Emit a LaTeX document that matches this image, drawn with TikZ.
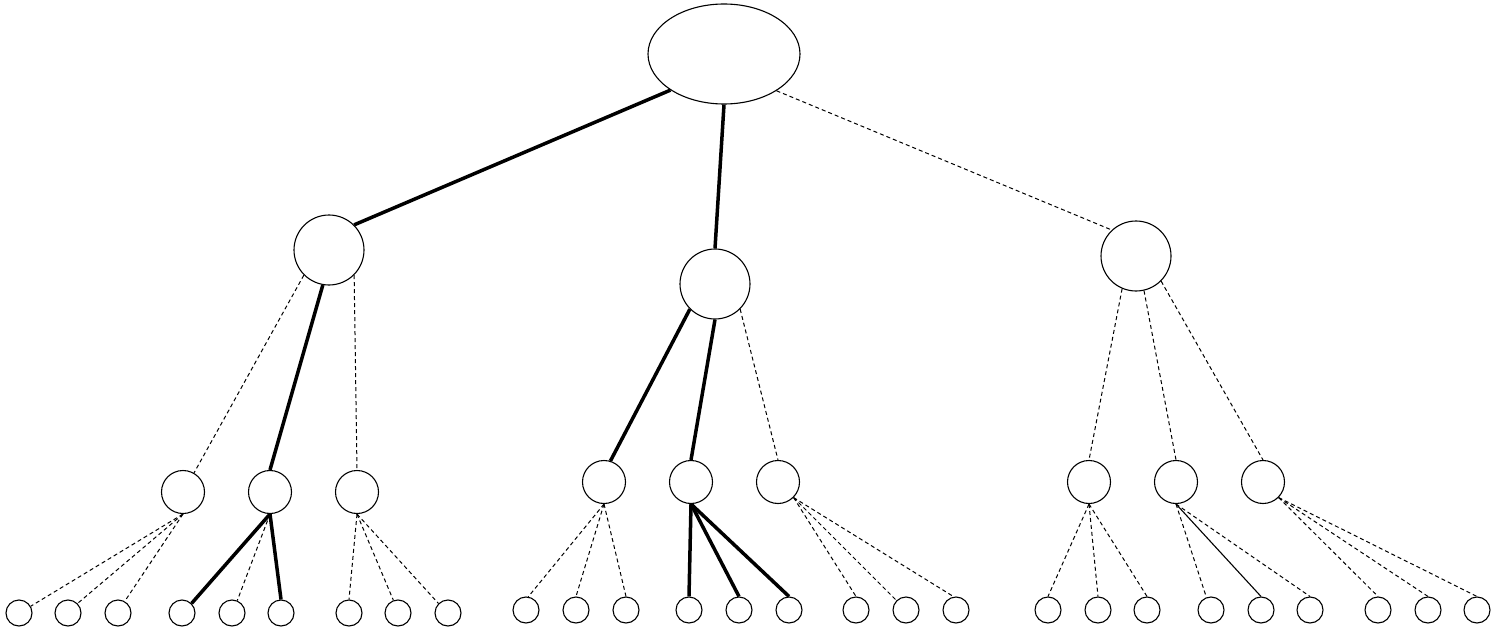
\documentclass[tikz,border=0pt]{standalone}
\usetikzlibrary{shapes.geometric}
\begin{document}
\begin{tikzpicture}[x=1pt,y=-1pt,
    rootnode/.style={draw,ellipse,line width=1.1pt,minimum width=152pt,minimum height=100pt,inner sep=0pt},
    midnode/.style={draw,circle,line width=1.1pt,minimum size=70pt,inner sep=0pt},
    lownode/.style={draw,circle,line width=1.1pt,minimum size=43pt,inner sep=0pt},
    leafnode/.style={draw,circle,line width=1.1pt,minimum size=26pt,inner sep=0pt},
    boldedge/.style={line width=3.5pt},
    dashedge/.style={line width=1pt,dash pattern=on 4pt off 3pt},
    thinedge/.style={line width=1.1pt}]
    \useasboundingbox (0,0) rectangle (1498,631);

    \node[rootnode] (root) at (724,54) {};

    \node[midnode] (ma) at (329,250) {};
    \node[midnode] (mb) at (715,284) {};
    \node[midnode] (mc) at (1136,256) {};

    \node[lownode] (la) at (183,492) {};
    \node[lownode] (lb) at (270,492) {};
    \node[lownode] (lc) at (357,492) {};
    \node[lownode] (ld) at (604,482) {};
    \node[lownode] (le) at (691,482) {};
    \node[lownode] (lf) at (778,482) {};
    \node[lownode] (lg) at (1089,482) {};
    \node[lownode] (lh) at (1176,482) {};
    \node[lownode] (li) at (1263,482) {};

    % leaves
    \foreach \n/\x/\y in {1/19/613,2/68/613,3/118/613,4/182/613,5/232/613,6/281/613,
                          7/349/613,8/398/613,9/448/613,10/526/610,11/576/610,12/626/610,
                          13/689/610,14/739/610,15/789/610,16/856/610,17/906/610,18/956/610,
                          19/1048/610,20/1098/610,21/1147/610,22/1211/610,23/1261/610,24/1310/610,
                          25/1378/610,26/1428/610,27/1477/610}
        \node[leafnode] (f\n) at (\x,\y) {};

    % first level
    \draw[boldedge] (root.214) -- (ma.45);
    \draw[boldedge] (root.south) -- (mb.north);
    \draw[dashedge] (root.325) -- (mc.133);

    % second level
    \draw[dashedge] (ma.225) -- (la.60);
    \draw[boldedge] (ma.260) -- (lb.north);
    \draw[dashedge] (ma.315) -- (lc.north);
    \draw[boldedge] (mb.225) -- (ld.73);
    \draw[boldedge] (mb.south) -- (le.north);
    \draw[dashedge] (mb.315) -- (lf.north);
    \draw[dashedge] (mc.247) -- (lg.north);
    \draw[dashedge] (mc.283) -- (lh.north);
    \draw[dashedge] (mc.315) -- (li.north);

    % third level
    \draw[dashedge] (la.south) -- (f1.30);
    \draw[dashedge] (la.south) -- (f2.north east);
    \draw[dashedge] (la.south) -- (f3.60);
    \draw[boldedge] (lb.south) -- (f4.north east);
    \draw[dashedge] (lb.south) -- (f5.67);
    \draw[boldedge] (lb.south) -- (f6.north);
    \draw[dashedge] (lc.south) -- (f7.north);
    \draw[dashedge] (lc.south) -- (f8.110);
    \draw[dashedge] (lc.south) -- (f9.north west);
    \draw[dashedge] (ld.south) -- (f10.80);
    \draw[dashedge] (ld.south) -- (f11.north);
    \draw[dashedge] (ld.south) -- (f12.north);
    \draw[boldedge] (le.south) -- (f13.north);
    \draw[boldedge] (le.south) -- (f14.north);
    \draw[boldedge] (le.south) -- (f15.north);
    \draw[dashedge] (lf.south east) -- (f16.north);
    \draw[dashedge] (lf.south east) -- (f17.north west);
    \draw[dashedge] (lf.south east) -- (f18.100);
    \draw[dashedge] (lg.south) -- (f19.north);
    \draw[dashedge] (lg.south) -- (f20.north);
    \draw[dashedge] (lg.south) -- (f21.north);
    \draw[dashedge] (lh.south) -- (f22.110);
    \draw[thinedge] (lh.south) -- (f23.north);
    \draw[dashedge] (lh.south) -- (f24.north);
    \draw[dashedge] (li.south east) -- (f25.north);
    \draw[dashedge] (li.south east) -- (f26.north);
    \draw[dashedge] (li.south east) -- (f27.north);
\end{tikzpicture}
\end{document}
